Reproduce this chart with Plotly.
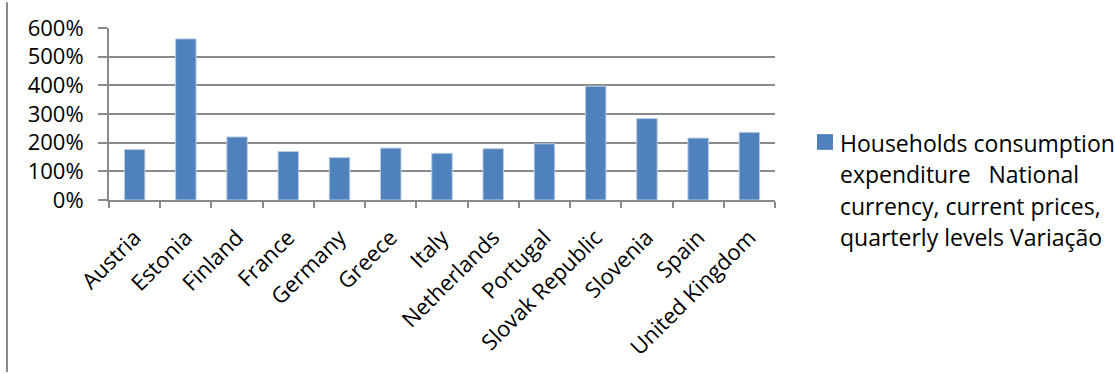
import plotly.graph_objects as go

countries = ["Austria", "Estonia", "Finland", "France", "Germany", "Greece", "Italy",
             "Netherlands", "Portugal", "Slovak Republic", "Slovenia", "Spain",
             "United Kingdom"]
variation = [1.76, 5.62, 2.20, 1.69, 1.48, 1.81, 1.63, 1.79, 1.96, 3.97, 2.84, 2.16, 2.36]
series_lines = ["Households consumption", "expenditure   National",
                "currency, current prices,", "quarterly levels Variação"]
y_ticks = [0, 1, 2, 3, 4, 5, 6]
y_labels = ["0%", "100%", "200%", "300%", "400%", "500%", "600%"]

FONT = "Open Sans"
GRID = "#8a8a8a"
BAR = "#4f81bd"

# plot-area geometry in pixels, used to place the key beside it
L, R, T, B, W, H = 109, 340, 25, 174, 1115, 374
PW, PH = W - L - R, H - T - B


def px_x(x):
    return (x - L) / PW


def px_y(y):
    return (H - B - y) / PH


fig = go.Figure(
    go.Bar(
        x=countries,
        y=variation,
        name=" ".join(series_lines),
        marker=dict(color=BAR, line=dict(color="#b9cde5", width=1)),
        width=0.4,
        showlegend=False,
    )
)

fig.update_layout(
    width=W,
    height=H,
    margin=dict(l=L, r=R, t=T, b=B),
    paper_bgcolor="white",
    plot_bgcolor="white",
    font=dict(family=FONT, size=22, color="black"),
    bargap=0.6,
)

fig.update_xaxes(
    showline=True, linecolor=GRID, linewidth=2,
    ticks="outside", tickson="boundaries", ticklen=6, tickcolor=GRID, tickwidth=2,
    tickangle=-45,
    tickfont=dict(family=FONT, size=22, color="black"),
    ticklabelstandoff=14,
    showgrid=False,
)

fig.update_yaxes(
    range=[0, 6], tickvals=y_ticks, ticktext=y_labels,
    showline=True, linecolor=GRID, linewidth=2,
    ticks="outside", ticklen=9, tickcolor=GRID, tickwidth=2,
    showgrid=True, gridcolor=GRID, gridwidth=2,
    tickfont=dict(family=FONT, size=22, color="black"),
    ticklabelstandoff=10,
    zeroline=False,
)

# series key: colour swatch plus wrapped series name
fig.add_shape(
    type="rect", xref="paper", yref="paper",
    x0=px_x(817), x1=px_x(833), y0=px_y(149), y1=px_y(133),
    fillcolor=BAR, line=dict(width=0),
)
for i, line in enumerate(series_lines):
    fig.add_annotation(
        text=line, xref="paper", yref="paper",
        x=px_x(838), y=px_y(142 + 32 * i),
        xanchor="left", yanchor="middle", showarrow=False,
        font=dict(family=FONT, size=23, color="black"),
    )

# chart frame edge on the left
fig.add_shape(
    type="line", xref="paper", yref="paper", layer="above",
    x0=px_x(7), x1=px_x(7),
    y0=-1.0, y1=1.15,
    line=dict(color=GRID, width=2),
)

fig.write_html("out.html")
